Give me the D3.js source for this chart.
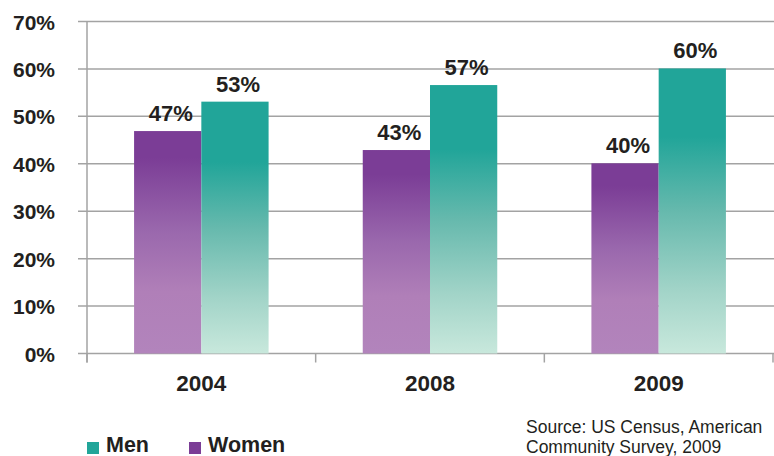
<!DOCTYPE html>
<html>
<head>
<meta charset="utf-8">
<script src="https://cdn.jsdelivr.net/npm/d3@7"></script>
<style>
  body { margin: 0; background: #fff; }
  svg { display: block; }
  text { font-family: Arial, "Liberation Sans", sans-serif; fill: #231f20; }
</style>
</head>
<body>
<script>
// data
let years = ["2004", "2008", "2009"];
let series = ["Women", "Men"];
let women = [46.9, 42.9, 40.1];
let men = [53.1, 56.6, 60.1];
let yTicks = [0, 10, 20, 30, 40, 50, 60, 70];
let legendOrder = ["Men", "Women"];
let sourceLines = ["Source: US Census, American", "Community Survey, 2009"];

run();

function run() {
    let width = 774;
    let height = 456;
    let left = 87, right = 773, top = 21.5, bottom = 353.5;

    let svg = d3.select("body")
        .append("svg")
        .attr("width", width)
        .attr("height", height);

    let defs = svg.append("defs");
    addGradient(defs, "gradWomen", [
        [0, "#7b3d96"], [0.12, "#7b3d96"], [0.45, "#9a68ad"], [0.72, "#b07fb8"], [1, "#b284bc"]
    ]);
    addGradient(defs, "gradMen", [
        [0, "#21a599"], [0.24, "#21a599"], [0.5, "#66b9ad"], [0.78, "#a2d4c8"], [1, "#c8e8dc"]
    ]);

    let y = d3.scaleLinear().domain([0, 70]).range([bottom, top]);
    let x0 = d3.scaleBand().domain(years).range([left, right]);
    let x1 = d3.scaleBand().domain(series).range([0, x0.bandwidth()])
        .paddingInner(0).paddingOuter(0.7);

    // gridlines
    svg.append("g")
        .selectAll("line")
        .data(yTicks)
        .join("line")
        .attr("x1", left - 9)
        .attr("x2", width)
        .attr("y1", d => y(d))
        .attr("y2", d => y(d))
        .attr("stroke", "#a3a3a3")
        .attr("stroke-width", 1.5);

    // y axis labels
    let yAxis = d3.axisLeft(y)
        .tickValues(yTicks)
        .tickSize(0)
        .tickPadding(0)
        .tickFormat(d => d + "%");
    let gy = svg.append("g")
        .attr("transform", "translate(55,0)")
        .call(yAxis);
    gy.select(".domain").remove();
    gy.selectAll("text")
        .attr("font-size", 21)
        .attr("font-weight", "bold")
        .attr("font-family", "Arial, 'Liberation Sans', sans-serif")
        .attr("fill", "#231f20")
        .attr("dy", "0.36em");

    // left axis line
    svg.append("line")
        .attr("x1", left).attr("x2", left)
        .attr("y1", top).attr("y2", bottom + 9)
        .attr("stroke", "#a3a3a3")
        .attr("stroke-width", 1.5);

    // category ticks below axis
    let bounds = years.map(d => x0(d)).concat([right]);
    svg.append("g")
        .selectAll("line")
        .data(bounds)
        .join("line")
        .attr("x1", d => d).attr("x2", d => d)
        .attr("y1", bottom).attr("y2", bottom + 9)
        .attr("stroke", "#a3a3a3")
        .attr("stroke-width", 1.5);

    // bars
    let rows = years.map((yr, i) => ({ year: yr, Women: women[i], Men: men[i] }));
    let groups = svg.append("g")
        .selectAll("g")
        .data(rows)
        .join("g")
        .attr("transform", d => "translate(" + x0(d.year) + ",0)");

    groups.selectAll("rect")
        .data(d => series.map(s => ({ key: s, value: d[s] })))
        .join("rect")
        .attr("x", d => x1(d.key))
        .attr("width", x1.bandwidth())
        .attr("y", d => y(d.value))
        .attr("height", d => y(0) - y(d.value))
        .attr("fill", d => d.key === "Men" ? "url(#gradMen)" : "url(#gradWomen)");

    groups.selectAll("text")
        .data(d => series.map(s => ({ key: s, value: d[s] })))
        .join("text")
        .attr("x", d => x1(d.key) + x1.bandwidth() / 2 + 3)
        .attr("y", d => y(d.value) - 10)
        .attr("text-anchor", "middle")
        .attr("font-size", 22)
        .attr("font-weight", "bold")
        .text(d => Math.round(d.value) + "%");

    // category labels
    svg.append("g")
        .selectAll("text")
        .data(years)
        .join("text")
        .attr("x", d => x0(d) + x0.bandwidth() / 2)
        .attr("y", 391)
        .attr("text-anchor", "middle")
        .attr("font-size", 22.5)
        .attr("font-weight", "bold")
        .text(d => d);

    // legend
    let legendX = { Men: 87, Women: 189 };
    let legendColor = { Men: "#21a599", Women: "#7b3d96" };
    let lg = svg.append("g")
        .selectAll("g")
        .data(legendOrder)
        .join("g")
        .attr("transform", d => "translate(" + legendX[d] + ",0)");
    lg.append("rect")
        .attr("x", 0).attr("y", 442)
        .attr("width", 12).attr("height", 12)
        .attr("fill", d => legendColor[d]);
    lg.append("text")
        .attr("x", 19)
        .attr("y", 452)
        .attr("font-size", 21.5)
        .attr("font-weight", "bold")
        .text(d => d);

    // source note
    svg.append("g")
        .selectAll("text")
        .data(sourceLines)
        .join("text")
        .attr("x", 526)
        .attr("y", (d, i) => 433 + i * 20)
        .attr("font-family", "Lato, 'Open Sans', sans-serif")
        .attr("font-size", 17.5)
        .attr("fill", "#231f20")
        .text(d => d);
}

function addGradient(defs, id, stops) {
    let g = defs.append("linearGradient")
        .attr("id", id)
        .attr("x1", 0).attr("y1", 0)
        .attr("x2", 0).attr("y2", 1);
    g.selectAll("stop")
        .data(stops)
        .join("stop")
        .attr("offset", d => d[0])
        .attr("stop-color", d => d[1]);
}
</script>
</body>
</html>
